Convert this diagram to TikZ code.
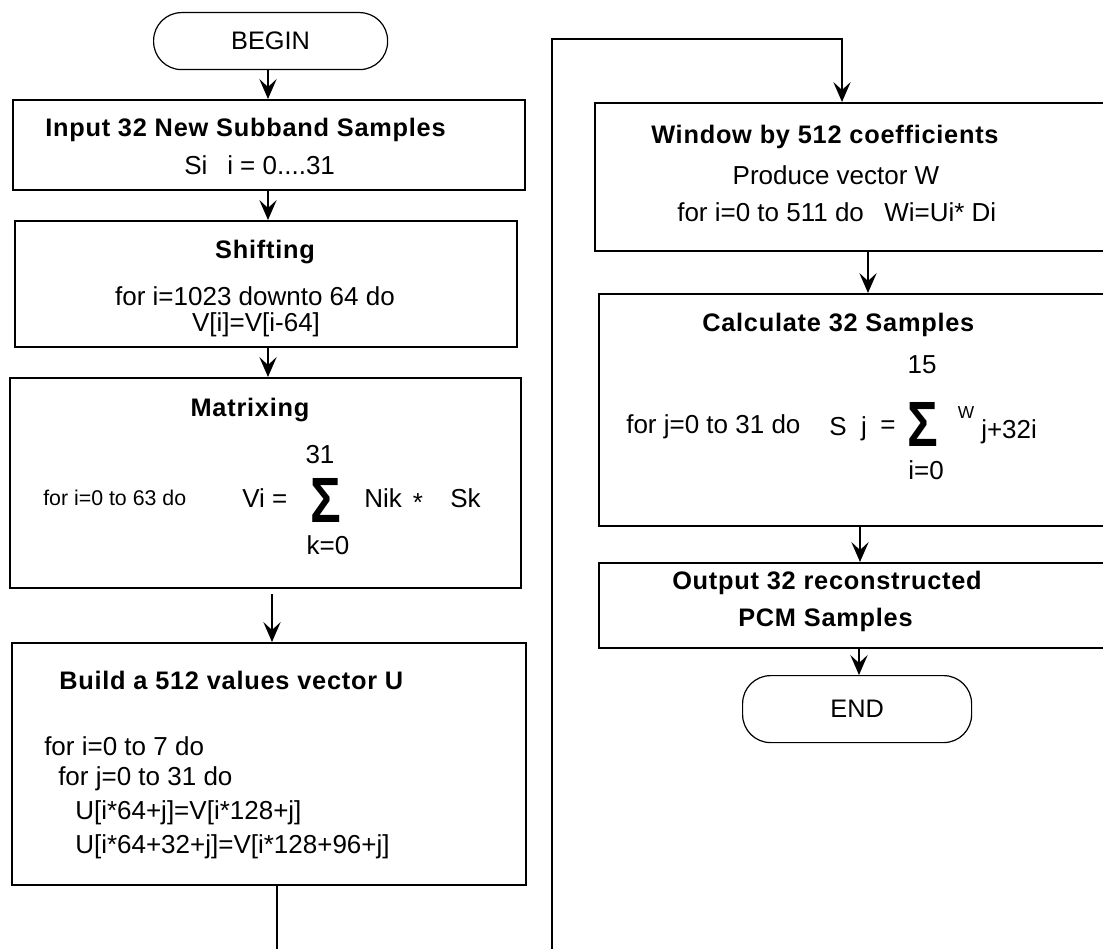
\documentclass[tikz,border=0pt]{standalone}
\usepackage{fontspec}
\setmainfont{Liberation Sans}
\newfontfamily\ttlfam[LetterSpace=3]{Liberation Sans}
\usetikzlibrary{arrows.meta}
\begin{document}
\begin{tikzpicture}[x=0.75pt,y=-0.75pt,
  box/.style={draw, line width=1.3pt, rectangle, inner sep=0pt, anchor=north west},
  term/.style={draw, line width=0.9pt, rectangle, rounded corners=21pt, inner sep=0pt, anchor=north west, font=\fontsize{19}{22}\selectfont},
  flow/.style={line width=1.1pt, -{Stealth[length=15pt,width=13pt,inset=6pt]}},
  plain/.style={line width=1.1pt},
  txt/.style={font=\fontsize{19.5}{22}\selectfont, inner sep=0pt},
  ttl/.style={font=\fontsize{19}{22}\selectfont\ttlfam\bfseries, inner sep=0pt},
  sm/.style={font=\fontsize{16}{19}\selectfont, inner sep=0pt},
  tiny/.style={font=\fontsize{13}{15}\selectfont, inner sep=0pt},
  sig/.style={font=\fontsize{48}{48}\selectfont\bfseries, inner sep=0pt, xscale=0.8}]
\useasboundingbox (0,0) rectangle (1103,949);

% terminals and boxes
\node[term, minimum width=234*0.75pt, minimum height=57*0.75pt] (begin) at (153,12) {BEGIN};
\node[box, minimum width=512*0.75pt, minimum height=90*0.75pt] (b1) at (12,99) {};
\node[box, minimum width=502*0.75pt, minimum height=126*0.75pt] (b2) at (14,220) {};
\node[box, minimum width=511*0.75pt, minimum height=210*0.75pt] (b3) at (9,377) {};
\node[box, minimum width=514*0.75pt, minimum height=242*0.75pt] (b4) at (11,642) {};
\node[box, minimum width=515*0.75pt, minimum height=148*0.75pt] (b5) at (594,102) {};
\node[box, minimum width=511*0.75pt, minimum height=232*0.75pt] (b6) at (598,293) {};
\node[box, minimum width=511*0.75pt, minimum height=85*0.75pt] (b7) at (598,562) {};
\node[term, minimum width=229*0.75pt, minimum height=67*0.75pt] (end) at (742,675) {END};

% box 1
\node[ttl, anchor=west] (t1a) at (45,130) {Input 32 New Subband Samples};
\node[txt, anchor=west] (t1b) at (184,165) {Si};
\node[txt, anchor=west] (t1c) at (227,165) {i = 0....31};
% box 2
\node[ttl] (t2a) at (265,252) {Shifting};
\node[txt] (t2b) at (255,296) {for i=1023 downto 64 do};
\node[txt] (t2c) at (256,325) {V[i]=V[i-64]};
% box 3
\node[ttl] (t3a) at (250,410) {Matrixing};
\node[sm, anchor=west] (t3b) at (43,498) {for i=0 to 63 do};
\node[txt, anchor=west] (t3c) at (242,498) {Vi =};
\node[txt] (t3d) at (320,455) {31};
\node[sig] (t3e) at (326,500) {Σ};
\node[txt] (t3f) at (328,545) {k=0};
\node[txt, anchor=west] (t3g) at (364,498) {Nik};
\node[txt] (t3h) at (418,503) {*};
\node[txt, anchor=west] (t3i) at (450,498) {Sk};
% box 4
\node[ttl, anchor=west] (t4a) at (59,680) {Build a 512 values vector U};
\node[txt, anchor=west] (t4b) at (44,746) {for i=0 to 7 do};
\node[txt, anchor=west] (t4c) at (58,779) {for j=0 to 31 do};
\node[txt, anchor=west] (t4d) at (75,813) {U[i*64+j]=V[i*128+j]};
\node[txt, anchor=west] (t4e) at (75,847) {U[i*64+32+j]=V[i*128+96+j]};
% box 5
\node[ttl, anchor=west] (t5a) at (651,137) {Window by 512 coefficients};
\node[txt] (t5b) at (836,175) {Produce vector W};
\node[txt, anchor=west] (t5c) at (677,212) {for i=0 to 511 do};
\node[txt, anchor=west] (t5d) at (884,212) {Wi=Ui* Di};
% box 6
\node[ttl, anchor=west] (t6a) at (702,325) {Calculate 32 Samples};
\node[txt] (t6b) at (922,365) {15};
\node[txt, anchor=west] (t6c) at (626,427) {for j=0 to 31 do};
\node[txt] (t6d) at (838,427) {S};
\node[txt] (t6e) at (864,429) {j};
\node[txt] (t6f) at (888,427) {=};
\node[sig] (t6g) at (923,424) {Σ};
\node[txt] (t6h) at (926,470) {i=0};
\node[tiny] (t6i) at (966,413) {W};
\node[txt, anchor=west] (t6j) at (981,432) {j+32i};
% box 7
\node[ttl, anchor=west] (t7a) at (672,583) {Output 32 reconstructed};
\node[ttl, anchor=west] (t7b) at (738,620) {PCM Samples};

% connectors
\coordinate (x01) at (268,0);
\coordinate (x34) at (272,0);
\coordinate (off1) at (277,949);
\coordinate (off2) at (552,949);
\coordinate (in5) at (842,39);
\coordinate (x56) at (868,0);
\coordinate (x67) at (860,0);
\coordinate (x7e) at (859,0);

\draw[flow] (begin.south -| x01) -- (b1.north -| x01);
\draw[flow] (b1.south -| x01) -- (b2.north -| x01);
\draw[flow] (b2.south -| x01) -- (b3.north -| x01);
\draw[flow] ([yshift=-4pt]b3.south -| x34) -- (b4.north -| x34);
\draw[plain] (b4.south -| off1) -- (off1);
\draw[flow] (off2) |- (in5) -- (in5 |- b5.north);
\draw[flow] (b5.south -| x56) -- (b6.north -| x56);
\draw[flow] (b6.south -| x67) -- (b7.north -| x67);
\draw[flow] (b7.south -| x7e) -- (end.north -| x7e);
\end{tikzpicture}
\end{document}
